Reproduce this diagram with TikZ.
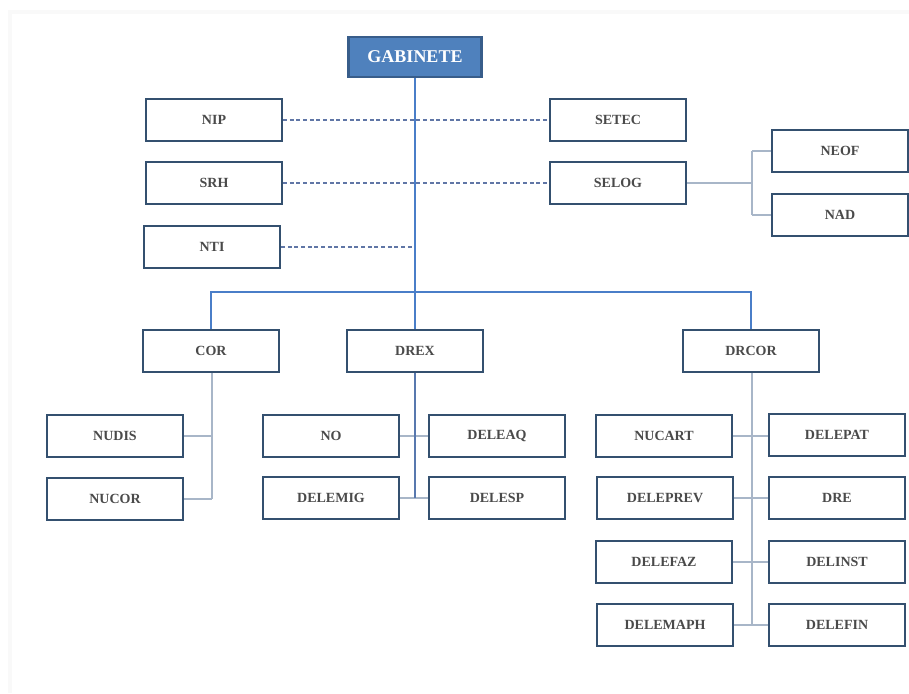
\documentclass[tikz,border=0pt]{standalone}
\usepackage{fontspec}
\setmainfont{Liberation Serif}
\definecolor{boxline}{HTML}{34506F}
\definecolor{gabfill}{HTML}{4F81BD}
\definecolor{gabline}{HTML}{385D8A}
\definecolor{mainblue}{HTML}{4A7EC8}
\definecolor{lightcon}{HTML}{A8B6C8}
\definecolor{dashcol}{HTML}{6076A6}
\definecolor{txt}{HTML}{4A4A4A}
\definecolor{drexline}{HTML}{5878AE}
\begin{document}
\begin{tikzpicture}[x=0.75pt,y=-0.75pt,
  unit/.style={draw=boxline,line width=1.7pt,fill=white,minimum width=102pt,minimum height=31.5pt,inner sep=0pt,font=\fontsize{10.5}{12}\selectfont\bfseries,text=txt},
  gab/.style={draw=gabline,line width=1.8pt,fill=gabfill,minimum width=100pt,minimum height=30pt,inner sep=0pt,font=\fontsize{13.5}{15}\selectfont\bfseries,text=white},
  mainc/.style={draw=mainblue,line width=1.6pt},
  lightc/.style={draw=lightcon,line width=1pt},
  dashc/.style={draw=dashcol,line width=0.9pt,dash pattern=on 3pt off 2pt},
  frame/.style={draw=gray!5,line width=2.5pt}]
\useasboundingbox (0,0) rectangle (909,693);
\draw[frame] (10,693) -- (10,12) -- (909,12);
% top
\node[gab] (gab) at (415,57) {GABINETE};
\node[unit] (nip) at (214,120) {NIP};
\node[unit] (setec) at (618,120) {SETEC};
\node[unit] (srh) at (214,183) {SRH};
\node[unit] (selog) at (618,183) {SELOG};
\node[unit] (nti) at (212,247) {NTI};
\node[unit] (neof) at (840,151) {NEOF};
\node[unit] (nad) at (840,215) {NAD};
% second tier
\node[unit] (cor) at (211,351) {COR};
\node[unit] (drex) at (415,351) {DREX};
\node[unit] (drcor) at (751,351) {DRCOR};
% COR children
\node[unit] (nudis) at (115,436) {NUDIS};
\node[unit] (nucor) at (115,499) {NUCOR};
% DREX children
\node[unit] (no) at (331,436) {NO};
\node[unit] (deleaq) at (497,436) {DELEAQ};
\node[unit] (delemig) at (331,498) {DELEMIG};
\node[unit] (delesp) at (497,498) {DELESP};
% DRCOR children
\node[unit] (nucart) at (664,436) {NUCART};
\node[unit] (delepat) at (837,435) {DELEPAT};
\node[unit] (deleprev) at (665,498) {DELEPREV};
\node[unit] (dre) at (837,498) {DRE};
\node[unit] (delefaz) at (664,562) {DELEFAZ};
\node[unit] (delinst) at (837,562) {DELINST};
\node[unit] (delemaph) at (665,625) {DELEMAPH};
\node[unit] (delefin) at (837,625) {DELEFIN};
% coordinates
\coordinate (hub) at (415,292);
\coordinate (dnti) at (415,247);
\coordinate (sj) at (752,183);
\coordinate (sjt) at (752,151);
\coordinate (sjb) at (752,215);
\coordinate (cj1) at (212,436);
\coordinate (cj2) at (212,499);
\coordinate (dj2) at (415,498);
\coordinate (rj1) at (752,436);
\coordinate (rj4) at (752,625);
% dashed links
\draw[dashc] (nip.east) -- (setec.west);
\draw[dashc] (srh.east) -- (selog.west);
\draw[dashc] (nti.east) -- (dnti);
% main trunk
\draw[mainc] (gab.south) -- (hub);
\draw[mainc] (cor.north) |- (hub) -| (drcor.north);
\draw[mainc] (hub) -- (drex.north);
% SELOG
\draw[lightc] (selog.east) -- (sj);
\draw[lightc] (sjt) -- (sjb);
\draw[lightc] (sjt) -- (neof.west);
\draw[lightc] (sjb) -- (nad.west);
% COR
\draw[lightc] (cor.south -| cj1) -- (cj2);
\draw[lightc] (nudis.east) -- (cj1);
\draw[lightc] (nucor.east) -- (cj2);
% DREX
\draw[lightc] (no.east) -- (deleaq.west);
\draw[lightc] (delemig.east) -- (delesp.west);
\draw[drexline,line width=1.4pt] (drex.south) -- (dj2);
% DRCOR
\draw[lightc] (drcor.south -| rj1) -- (rj4);
\draw[lightc] (nucart.east) -- (delepat.west |- rj1);
\draw[lightc] (deleprev.east) -- (dre.west);
\draw[lightc] (delefaz.east) -- (delinst.west);
\draw[lightc] (delemaph.east) -- (delefin.west);
\end{tikzpicture}
\end{document}
